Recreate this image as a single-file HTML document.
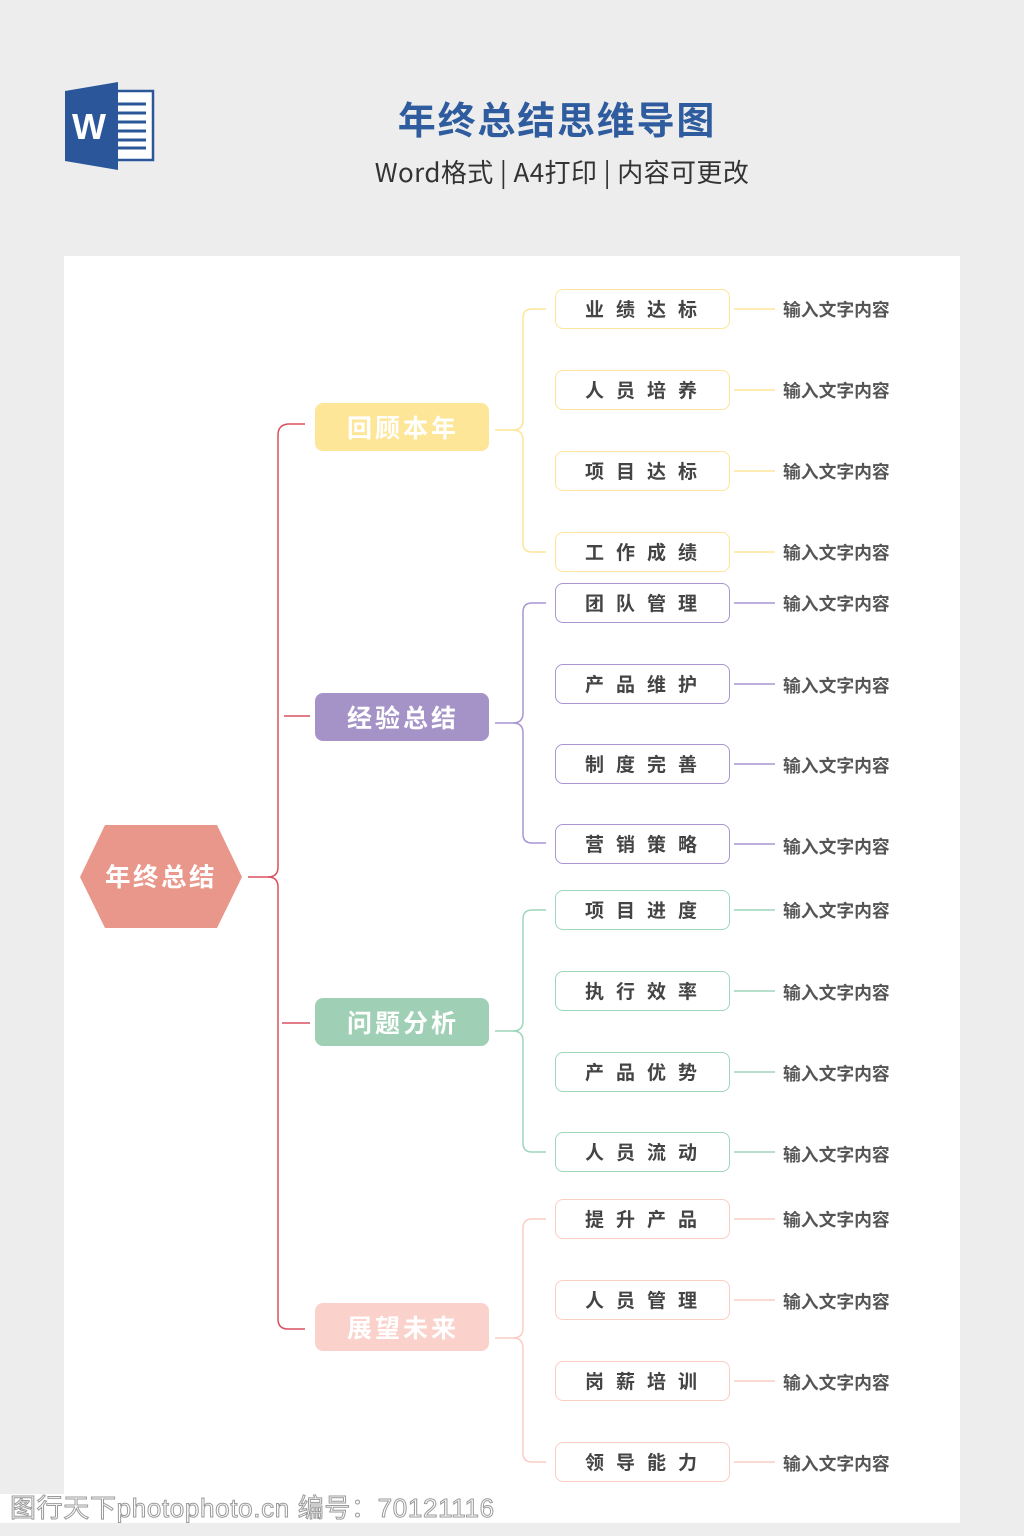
<!DOCTYPE html>
<html>
<head>
<meta charset="utf-8">
<style>
  html,body{margin:0;padding:0;}
  body{width:1024px;height:1536px;background:#ededed;position:relative;overflow:hidden;
       font-family:"Liberation Sans","Noto Sans CJK SC",sans-serif;}
  .abs{position:absolute;}
  .panel{left:64px;top:256px;width:896px;height:1267px;background:#fff;}
  .title{left:300px;top:98px;width:514px;text-align:center;font-size:38px;line-height:40px;
         font-weight:bold;color:#2f5c9e;letter-spacing:1.8px;
         font-family:"Noto Sans CJK SC",sans-serif;}
  .sub{left:300px;top:155px;width:524px;text-align:center;font-size:26px;line-height:34px;color:#333;
       letter-spacing:0.4px;font-family:"Noto Sans CJK SC",sans-serif;white-space:nowrap;}
  .l1{left:315px;width:174px;height:48px;border-radius:8px;color:#fff;font-weight:bold;
      font-size:25px;line-height:48px;text-align:center;letter-spacing:3px;text-indent:2px;
      font-family:"Noto Sans CJK SC",sans-serif;}
  .l2{left:555px;width:175px;height:40px;box-sizing:border-box;border:1.6px solid;border-radius:8px;
      background:#fff;color:#444;font-weight:bold;font-size:19px;line-height:37px;text-align:center;
      letter-spacing:12px;text-indent:9px;font-family:"Noto Sans CJK SC",sans-serif;}
  .t{left:783px;font-size:17.8px;line-height:20px;color:#555;font-weight:bold;
     font-family:"Noto Sans CJK SC",sans-serif;white-space:nowrap;}
  .y{border-color:#fde59a;}
  .p{border-color:#a995d0;}
  .g{border-color:#9fd6bc;}
  .k{border-color:#fbcdc5;}
  .wm{left:0;top:1494px;width:505px;height:29px;background:#fff;}
  .wmt{left:10px;top:1493px;font-size:26px;line-height:30px;color:#fff;-webkit-text-stroke:1px #9a9a9a;
       letter-spacing:0.65px;font-family:"Liberation Sans","Noto Sans CJK SC",sans-serif;white-space:nowrap;}
</style>
</head>
<body>
<div class="abs panel"></div>

<!-- Word icon -->
<svg class="abs" style="left:0;top:0" width="1024" height="256">
  <rect x="112" y="91" width="41" height="69" fill="#fff" stroke="#2b579a" stroke-width="2.5"/>
  <g stroke="#2b579a" stroke-width="3">
    <line x1="118" y1="104" x2="146" y2="104"/>
    <line x1="118" y1="113" x2="146" y2="113"/>
    <line x1="118" y1="122" x2="146" y2="122"/>
    <line x1="118" y1="131" x2="146" y2="131"/>
    <line x1="118" y1="140" x2="146" y2="140"/>
    <line x1="118" y1="148" x2="146" y2="148"/>
  </g>
  <polygon points="65,91 118,82 118,170 65,161" fill="#2b579a"/>
  <text x="89" y="139" text-anchor="middle" font-family="Liberation Sans, sans-serif" font-weight="bold" font-size="36" fill="#fff">W</text>
</svg>

<div class="abs title">年终总结思维导图</div>
<div class="abs sub">Word格式 | A4打印 | 内容可更改</div>

<!-- connectors -->
<svg class="abs" style="left:0;top:0" width="1024" height="1536" fill="none" stroke-width="1.5">
  <!-- main red brace -->
  <g stroke="#d8505f">
    <path d="M305 424 L288 424 Q278 425 278 435 L278 867 Q278 877 268 877 L248 877"/>
    <path d="M268 877 Q278 877 278 887 L278 1319 Q278 1329 288 1329 L305 1329"/>
    <line x1="284" y1="716" x2="310" y2="716"/>
    <line x1="282" y1="1023" x2="310" y2="1023"/>
  </g>
  <!-- yellow -->
  <g stroke="#fde59a">
    <path d="M495 430 L513 430 Q523 430 523 420 L523 318 Q523 309 532 309 L546 309"/>
    <path d="M513 430 Q523 430 523 440 L523 543 Q523 552 532 552 L546 552"/>
    <line x1="734" y1="309" x2="775" y2="309"/>
    <line x1="734" y1="390" x2="775" y2="390"/>
    <line x1="734" y1="471" x2="775" y2="471"/>
    <line x1="734" y1="552" x2="775" y2="552"/>
  </g>
  <!-- purple -->
  <g stroke="#a995d0">
    <path d="M495 723 L513 723 Q523 723 523 713 L523 612 Q523 603 532 603 L546 603"/>
    <path d="M513 723 Q523 723 523 733 L523 834 Q523 843 532 843 L546 843"/>
    <line x1="734" y1="603" x2="775" y2="603"/>
    <line x1="734" y1="684" x2="775" y2="684"/>
    <line x1="734" y1="764" x2="775" y2="764"/>
    <line x1="734" y1="844" x2="775" y2="844"/>
  </g>
  <!-- green -->
  <g stroke="#9fd6bc">
    <path d="M495 1031 L513 1031 Q523 1031 523 1021 L523 919 Q523 910 532 910 L546 910"/>
    <path d="M513 1031 Q523 1031 523 1041 L523 1143 Q523 1152 532 1152 L546 1152"/>
    <line x1="734" y1="910" x2="775" y2="910"/>
    <line x1="734" y1="991" x2="775" y2="991"/>
    <line x1="734" y1="1072" x2="775" y2="1072"/>
    <line x1="734" y1="1152" x2="775" y2="1152"/>
  </g>
  <!-- pink -->
  <g stroke="#fbcdc5">
    <path d="M495 1338 L513 1338 Q523 1338 523 1328 L523 1228 Q523 1219 532 1219 L546 1219"/>
    <path d="M513 1338 Q523 1338 523 1348 L523 1453 Q523 1462 532 1462 L546 1462"/>
    <line x1="734" y1="1219" x2="775" y2="1219"/>
    <line x1="734" y1="1300" x2="775" y2="1300"/>
    <line x1="734" y1="1381" x2="775" y2="1381"/>
    <line x1="734" y1="1462" x2="775" y2="1462"/>
  </g>
  <!-- hexagon -->
  <polygon points="80,877 105,825 217,825 242,877 217,928 105,928" fill="#e8978a" stroke="none"/>
  <text x="161" y="886" text-anchor="middle" font-family="Noto Sans CJK SC, sans-serif" font-weight="bold" font-size="25.5" letter-spacing="2.5" fill="#fff">年终总结</text>
</svg>

<!-- level 1 -->
<div class="abs l1" style="top:403px;background:#fde698;">回顾本年</div>
<div class="abs l1" style="top:693px;background:#a593c8;">经验总结</div>
<div class="abs l1" style="top:998px;background:#9fd0b5;">问题分析</div>
<div class="abs l1" style="top:1303px;background:#fad1cb;">展望未来</div>

<!-- level 2 yellow -->
<div class="abs l2 y" style="top:289px;">业绩达标</div>
<div class="abs l2 y" style="top:370px;">人员培养</div>
<div class="abs l2 y" style="top:451px;">项目达标</div>
<div class="abs l2 y" style="top:532px;">工作成绩</div>
<!-- purple -->
<div class="abs l2 p" style="top:583px;">团队管理</div>
<div class="abs l2 p" style="top:664px;">产品维护</div>
<div class="abs l2 p" style="top:744px;">制度完善</div>
<div class="abs l2 p" style="top:824px;">营销策略</div>
<!-- green -->
<div class="abs l2 g" style="top:890px;">项目进度</div>
<div class="abs l2 g" style="top:971px;">执行效率</div>
<div class="abs l2 g" style="top:1052px;">产品优势</div>
<div class="abs l2 g" style="top:1132px;">人员流动</div>
<!-- pink -->
<div class="abs l2 k" style="top:1199px;">提升产品</div>
<div class="abs l2 k" style="top:1280px;">人员管理</div>
<div class="abs l2 k" style="top:1361px;">岗薪培训</div>
<div class="abs l2 k" style="top:1442px;">领导能力</div>

<!-- leaf texts -->
<div class="abs t" style="top:299px;">输入文字内容</div>
<div class="abs t" style="top:380px;">输入文字内容</div>
<div class="abs t" style="top:461px;">输入文字内容</div>
<div class="abs t" style="top:542px;">输入文字内容</div>
<div class="abs t" style="top:593px;">输入文字内容</div>
<div class="abs t" style="top:675px;">输入文字内容</div>
<div class="abs t" style="top:755px;">输入文字内容</div>
<div class="abs t" style="top:836px;">输入文字内容</div>
<div class="abs t" style="top:900px;">输入文字内容</div>
<div class="abs t" style="top:982px;">输入文字内容</div>
<div class="abs t" style="top:1063px;">输入文字内容</div>
<div class="abs t" style="top:1144px;">输入文字内容</div>
<div class="abs t" style="top:1209px;">输入文字内容</div>
<div class="abs t" style="top:1291px;">输入文字内容</div>
<div class="abs t" style="top:1372px;">输入文字内容</div>
<div class="abs t" style="top:1453px;">输入文字内容</div>

<!-- watermark -->
<div class="abs wm"></div>
<div class="abs wmt">图行天下photophoto.cn 编号：70121116</div>
</body>
</html>
